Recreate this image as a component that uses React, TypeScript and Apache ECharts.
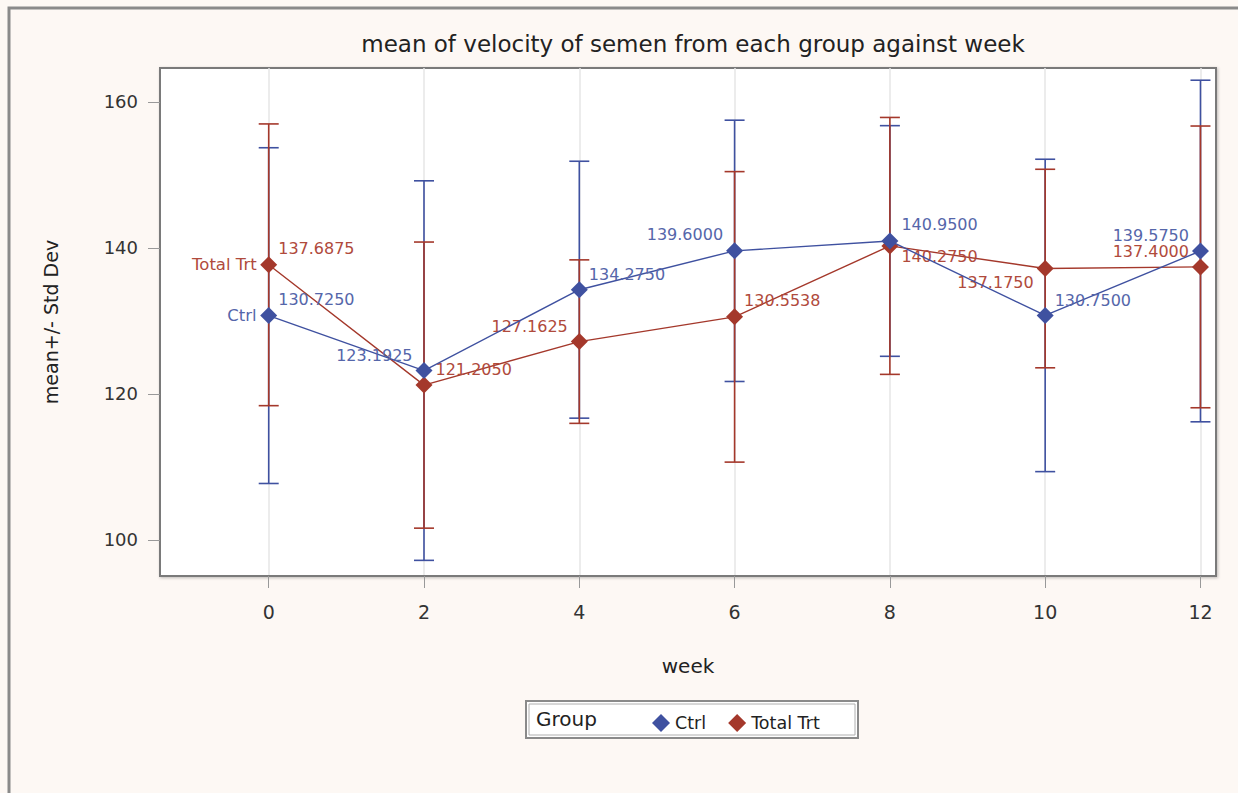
import React, { useEffect, useRef } from "react";
import * as echarts from "echarts";

const weeks = [0, 2, 4, 6, 8, 10, 12];
const ctrlMean = [130.725, 123.1925, 134.275, 139.6, 140.95, 130.75, 139.575];
const ctrlSd = [23.0, 26.0, 17.6, 17.9, 15.8, 21.4, 23.4];
const trtMean = [137.6875, 121.205, 127.1625, 130.5538, 140.275, 137.175, 137.4];
const trtSd = [19.3, 19.6, 11.2, 19.9, 17.6, 13.6, 19.3];
const xTicks = [0, 2, 4, 6, 8, 10, 12];
const yTicks = [100, 120, 140, 160];
const groupNames = ["Ctrl", "Total Trt"];

// label placement (style only)
const ctrlLabelPos = ["right", "left", "right", "left", "right", "right", "left"];
const ctrlLabelOff = [[-4, -16], [2, -15], [-4, -15], [2, -16], [-2, -16], [-4, -15], [2, -16]];
const trtLabelPos = ["right", "right", "left", "right", "right", "left", "left"];
const trtLabelOff = [[-4, -16], [-2, -16], [2, -15], [-4, -16], [-2, 11], [2, 14], [2, -15]];

const BLUE = "#3f51a0";
const RED = "#a4382b";
const BLUE_TXT = "#5566aa";
const RED_TXT = "#b04a3c";
const FONT = "DejaVu Sans";

function errorSeries(name: string, means: number[], sds: number[], color: string, z: number) {
  return {
    type: "custom",
    name,
    z,
    silent: true,
    data: weeks.map((w, i) => [w, means[i] - sds[i], means[i] + sds[i]]),
    encode: { x: 0, y: [1, 2] },
    renderItem: (params: any, api: any) => {
      const x = api.value(0);
      const lo = api.coord([x, api.value(1)]);
      const hi = api.coord([x, api.value(2)]);
      const hw = 10;
      const style = { stroke: color, lineWidth: 1.6 };
      return {
        type: "group",
        children: [
          { type: "line", shape: { x1: lo[0], y1: lo[1], x2: hi[0], y2: hi[1] }, style },
          { type: "line", shape: { x1: lo[0] - hw, y1: lo[1], x2: lo[0] + hw, y2: lo[1] }, style },
          { type: "line", shape: { x1: hi[0] - hw, y1: hi[1], x2: hi[0] + hw, y2: hi[1] }, style },
        ],
      };
    },
  };
}

function lineSeries(name: string, means: number[], color: string, txt: string, pos: string[], off: number[][], z: number) {
  return {
    type: "line",
    name,
    z,
    symbol: "diamond",
    symbolSize: 17,
    lineStyle: { color, width: 1.4 },
    itemStyle: { color },
    data: weeks.map((w, i) => ({
      value: [w, means[i]],
      label: {
        show: true,
        position: pos[i],
        offset: off[i],
        distance: 5,
        color: txt,
        fontFamily: FONT,
        fontSize: 16,
        formatter: (p: any) => p.value[1].toFixed(4),
      },
    })),
    markPoint: {
      symbol: "circle",
      symbolSize: 0,
      silent: true,
      data: [
        {
          coord: [weeks[0], means[0]],
          label: {
            show: true,
            position: "left",
            distance: 12,
            color: txt,
            fontFamily: FONT,
            fontSize: 16.5,
            formatter: name,
          },
        },
      ],
    },
  };
}

export default function App() {
  const ref = useRef<HTMLDivElement>(null);
  useEffect(() => {
    if (!ref.current) return;
    const chart = echarts.init(ref.current, null, { renderer: "svg" });
    chart.setOption({
      animation: false,
      backgroundColor: "#fdf8f4",
      title: {
        text: "mean of velocity of semen from each group against week",
        left: 688,
        top: 27,
        textAlign: "center",
        textStyle: { fontFamily: FONT, fontSize: 23, fontWeight: "normal", color: "#222" },
      },
      grid: {
        left: 160,
        top: 68,
        right: 22,
        bottom: 217,
        show: true,
        backgroundColor: "#ffffff",
        borderColor: "#7a7a7a",
        borderWidth: 2,
        shadowColor: "rgba(0,0,0,0.25)",
        shadowBlur: 3,
        shadowOffsetX: 1,
        shadowOffsetY: 1,
      },
      xAxis: {
        type: "value",
        min: -1.4,
        max: 12.2,
        name: "week",
        nameLocation: "middle",
        nameGap: 80,
        nameTextStyle: { fontFamily: FONT, fontSize: 20, color: "#222" },
        axisLine: { show: true, onZero: false, lineStyle: { color: "#7a7a7a", width: 2 } },
        axisTick: { show: true, length: 12, customValues: xTicks, lineStyle: { color: "#999" } },
        axisLabel: { customValues: xTicks, margin: 26, fontFamily: FONT, fontSize: 19, color: "#333" },
        splitLine: { show: true, lineStyle: { color: "#e6e6e6", width: 1.5 } },
      },
      yAxis: {
        type: "value",
        min: 95.05,
        max: 164.65,
        name: "mean+/- Std Dev",
        nameLocation: "middle",
        nameGap: 100,
        nameTextStyle: { fontFamily: FONT, fontSize: 19, color: "#222" },
        axisLine: { show: true, onZero: false, lineStyle: { color: "#7a7a7a", width: 2 } },
        axisTick: { show: true, length: 12, customValues: yTicks, lineStyle: { color: "#999" } },
        axisLabel: { customValues: yTicks, margin: 22, fontFamily: FONT, fontSize: 18, color: "#333" },
        splitLine: { show: false },
      },
      legend: {
        left: 647,
        top: 709,
        itemWidth: 18,
        itemHeight: 18,
        itemGap: 22,
        textStyle: { fontFamily: FONT, fontSize: 17.5, color: "#222" },
        data: [
          { name: groupNames[0], icon: "diamond", itemStyle: { color: BLUE } },
          { name: groupNames[1], icon: "diamond", itemStyle: { color: RED } },
        ],
      },
      graphic: [
        {
          type: "rect",
          shape: { x: 9, y: 8, width: 1300, height: 900 },
          style: { fill: "none", stroke: "#8a8a8a", lineWidth: 3 },
          silent: true,
        },
        {
          type: "rect",
          shape: { x: 526, y: 701, width: 332, height: 37 },
          style: { fill: "#ffffff", stroke: "#8a8a8a", lineWidth: 2 },
          z: -1,
          silent: true,
        },
        {
          type: "rect",
          shape: { x: 529, y: 704, width: 326, height: 31 },
          style: { fill: "none", stroke: "#b0b0b0", lineWidth: 1 },
          z: -1,
          silent: true,
        },
        {
          type: "text",
          x: 536,
          y: 719,
          style: { text: "Group", fontFamily: FONT, fontSize: 20, fill: "#222", textVerticalAlign: "middle" },
          silent: true,
        },
      ],
      series: [
        errorSeries("Ctrl SD", ctrlMean, ctrlSd, BLUE, 2),
        errorSeries("Total Trt SD", trtMean, trtSd, RED, 3),
        lineSeries(groupNames[1], trtMean, RED, RED_TXT, trtLabelPos, trtLabelOff, 4),
        lineSeries(groupNames[0], ctrlMean, BLUE, BLUE_TXT, ctrlLabelPos, ctrlLabelOff, 5),
      ],
    });
    return () => chart.dispose();
  }, []);
  return (
    <div
      ref={ref}
      style={{ position: "absolute", left: 0, top: 0, width: 1238, height: 793 }}
    />
  );
}
